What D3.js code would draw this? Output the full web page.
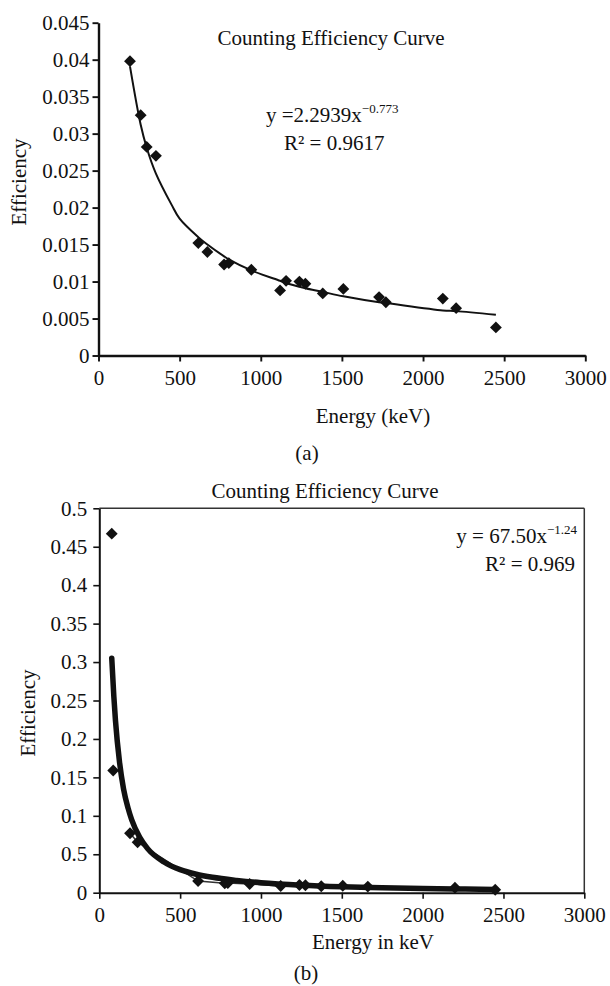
<!DOCTYPE html>
<html>
<head>
<meta charset="utf-8">
<script src="https://cdn.jsdelivr.net/npm/d3@7/dist/d3.min.js"></script>
<style>
  html, body { margin: 0; padding: 0; background: #fff; }
  svg { display: block; }
  text { font-family: "Liberation Serif", "Times New Roman", serif; fill: #111; }
</style>
</head>
<body>
<svg id="chart" width="610" height="986"></svg>
<script>
// ---------- Chart (a) data ----------
const aEnergy = [194, 260, 297, 354, 615, 671, 774, 803, 942, 1119, 1156, 1238, 1275, 1382, 1509, 1729, 1771, 2122, 2204, 2449];
const aEff    = [0.0398, 0.0325, 0.0282, 0.0270, 0.0152, 0.0140, 0.0123, 0.0125, 0.0116, 0.0088, 0.0101, 0.0100, 0.0097, 0.0084, 0.0090, 0.0079, 0.0072, 0.0077, 0.0064, 0.0038];
const aFitEnergy = [194, 260, 297, 354, 450, 500, 615, 671, 774, 803, 942, 1119, 1156, 1238, 1275, 1382, 1509, 1729, 1771, 2122, 2204, 2449];
const aFitEff    = [0.0391, 0.0312, 0.0281, 0.0246, 0.0204, 0.0185, 0.0160, 0.0150, 0.0134, 0.0130, 0.0115, 0.0101, 0.0098, 0.0093, 0.0091, 0.0086, 0.0080, 0.0072, 0.0071, 0.0061, 0.0060, 0.0055];
const aXTicks = [0, 500, 1000, 1500, 2000, 2500, 3000];
const aYTicks = [0, 0.005, 0.01, 0.015, 0.02, 0.025, 0.03, 0.035, 0.04, 0.045];
const aYTickLabels = ["0", "0.005", "0.01", "0.015", "0.02", "0.025", "0.03", "0.035", "0.04", "0.045"];

// ---------- Chart (b) data ----------
const bEnergy = [77, 86, 190, 237, 611, 776, 795, 930, 1122, 1238, 1275, 1373, 1506, 1661, 2200, 2449];
const bEff    = [0.467, 0.159, 0.0773, 0.0656, 0.0152, 0.0122, 0.0125, 0.0113, 0.0087, 0.0100, 0.0097, 0.0084, 0.0090, 0.0080, 0.0064, 0.0038];
const bFitEnergy = [77, 90, 100, 125, 150, 178, 200, 250, 300, 400, 500, 600, 700, 850, 1000, 1250, 1500, 1750, 2000, 2250, 2450];
const bFitEff    = [0.305, 0.255, 0.224, 0.170, 0.135, 0.110, 0.095, 0.072, 0.057, 0.040, 0.030, 0.024, 0.020, 0.016, 0.013, 0.0098, 0.0078, 0.0065, 0.0055, 0.0048, 0.0042];
const bXTicks = [0, 500, 1000, 1500, 2000, 2500, 3000];
const bYTicks = [0, 0.05, 0.1, 0.15, 0.2, 0.25, 0.3, 0.35, 0.4, 0.45, 0.5];
const bYTickLabels = ["0", "0.5", "0.1", "0.15", "0.2", "0.25", "0.3", "0.35", "0.4", "0.45", "0.5"];

const svg = d3.select("#chart");
svg.append("rect").attr("width", 610).attr("height", 986).attr("fill", "#fff");

const FS = 21;
const diamond = d3.symbol().type(d3.symbolSquare).size(70);

function styleAxis(g, width) {
  g.selectAll(".domain").attr("stroke", "#111").attr("stroke-width", width);
  g.selectAll(".tick line").attr("stroke", "#111").attr("stroke-width", width * 0.8);
  g.selectAll(".tick text")
    .attr("font-family", '"Liberation Serif", "Times New Roman", serif')
    .attr("font-size", FS).attr("fill", "#111");
}

// ================= Chart (a) =================
{
  const x = d3.scaleLinear().domain([0, 3000]).range([98.5, 585.3]);
  const y = d3.scaleLinear().domain([0, 0.045]).range([355.5, 22.7]);
  const g = svg.append("g");

  const xa = g.append("g").attr("transform", `translate(0,${y(0)})`)
    .call(d3.axisBottom(x).tickValues(aXTicks).tickFormat(d3.format("d")).tickSize(6).tickSizeOuter(0).tickPadding(6));
  styleAxis(xa, 2.4);
  xa.selectAll(".tick text").attr("dy", null).attr("y", 29);

  const ya = g.append("g").attr("transform", `translate(${x(0)},0)`)
    .call(d3.axisLeft(y).tickValues(aYTicks).tickFormat((d, i) => aYTickLabels[i]).tickSize(6).tickSizeOuter(0).tickPadding(3));
  styleAxis(ya, 2.4);

  const line = d3.line().x(d => x(d[0])).y(d => y(d[1])).curve(d3.curveCatmullRom.alpha(0.5));
  g.append("path").datum(d3.zip(aFitEnergy, aFitEff))
    .attr("d", line).attr("fill", "none").attr("stroke", "#111").attr("stroke-width", 2);

  g.selectAll(".pt").data(d3.zip(aEnergy, aEff)).join("path")
    .attr("d", diamond)
    .attr("transform", d => `translate(${x(d[0])},${y(d[1])}) rotate(45)`)
    .attr("fill", "#111");

  g.append("text").attr("x", 331).attr("y", 45).attr("text-anchor", "middle")
    .attr("font-size", FS).text("Counting Efficiency Curve");

  const eq = g.append("text").attr("x", 266).attr("y", 122).attr("font-size", FS);
  eq.append("tspan").text("y =2.2939x");
  eq.append("tspan").attr("font-size", 13).attr("dy", -9).text("\u22120.773");
  g.append("text").attr("x", 284).attr("y", 150).attr("font-size", FS).text("R\u00B2 = 0.9617");

  g.append("text").attr("x", 373).attr("y", 423).attr("text-anchor", "middle")
    .attr("font-size", FS).text("Energy (keV)");
  g.append("text").attr("transform", "translate(26,182) rotate(-90)").attr("text-anchor", "middle")
    .attr("font-size", FS).text("Efficiency");
  g.append("text").attr("x", 307).attr("y", 460).attr("text-anchor", "middle")
    .attr("font-size", FS).text("(a)");
}

// ================= Chart (b) =================
{
  const x = d3.scaleLinear().domain([0, 3000]).range([99.3, 584.3]);
  const y = d3.scaleLinear().domain([0, 0.5]).range([892.7, 508.3]);
  const g = svg.append("g");

  g.append("line").attr("x1", x(0)).attr("x2", x(3000)).attr("y1", y(0.5)).attr("y2", y(0.5))
    .attr("stroke", "#333").attr("stroke-width", 1.5);
  g.append("line").attr("x1", x(3000)).attr("x2", x(3000)).attr("y1", y(0.5)).attr("y2", y(0))
    .attr("stroke", "#333").attr("stroke-width", 1.5);

  const xa = g.append("g").attr("transform", `translate(0,${y(0)})`)
    .call(d3.axisBottom(x).tickValues(bXTicks).tickFormat(d3.format("d")).tickSize(6).tickSizeOuter(0).tickPadding(6));
  styleAxis(xa, 2);
  xa.selectAll(".tick text").attr("dy", null).attr("y", 29);

  const ya = g.append("g").attr("transform", `translate(${x(0)},0)`)
    .call(d3.axisLeft(y).tickValues(bYTicks).tickFormat((d, i) => bYTickLabels[i]).tickSize(6).tickSizeOuter(0).tickPadding(6));
  styleAxis(ya, 2);

  const pts = d3.zip(bEnergy, bEff).filter(d => d[0] > 150);
  g.append("path").datum(pts)
    .attr("d", d3.line().x(d => x(d[0])).y(d => y(d[1])))
    .attr("fill", "none").attr("stroke", "#333").attr("stroke-width", 1.5);

  const line = d3.line().x(d => x(d[0])).y(d => y(d[1])).curve(d3.curveMonotoneX);
  g.append("path").datum(d3.zip(bFitEnergy, bFitEff))
    .attr("d", line).attr("fill", "none").attr("stroke", "#111").attr("stroke-width", 5.5)
    .attr("stroke-linecap", "round");

  g.selectAll(".pt").data(d3.zip(bEnergy, bEff)).join("path")
    .attr("d", diamond)
    .attr("transform", d => `translate(${x(d[0])},${y(d[1])}) rotate(45)`)
    .attr("fill", "#111");

  g.append("text").attr("x", 325).attr("y", 498).attr("text-anchor", "middle")
    .attr("font-size", FS).text("Counting Efficiency Curve");

  const eq = g.append("text").attr("x", 577).attr("y", 543).attr("text-anchor", "end").attr("font-size", FS);
  eq.append("tspan").text("y = 67.50x");
  eq.append("tspan").attr("font-size", 13).attr("dy", -9).text("\u22121.24");
  g.append("text").attr("x", 575).attr("y", 571).attr("text-anchor", "end").attr("font-size", FS).text("R\u00B2 = 0.969");

  g.append("text").attr("x", 373).attr("y", 949).attr("text-anchor", "middle")
    .attr("font-size", FS).text("Energy in keV");
  g.append("text").attr("transform", "translate(35,713) rotate(-90)").attr("text-anchor", "middle")
    .attr("font-size", FS).text("Efficiency");
  g.append("text").attr("x", 306).attr("y", 980).attr("text-anchor", "middle")
    .attr("font-size", FS).text("(b)");
}
</script>
</body>
</html>
